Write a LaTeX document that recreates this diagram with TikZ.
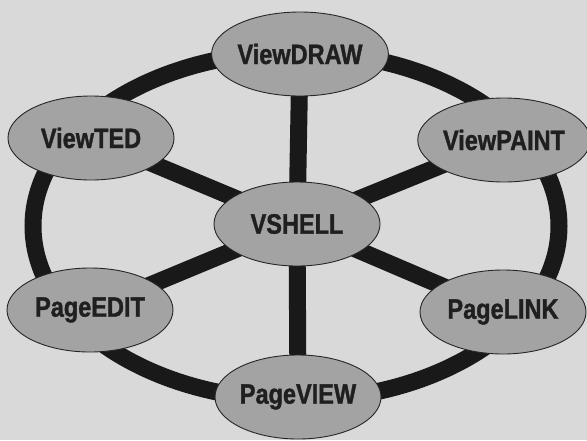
\documentclass[tikz,border=0pt]{standalone}
\usepackage{fontspec}
\setmainfont{Liberation Sans}[FakeStretch=0.84, BoldFeatures={FakeBold=1.2}]
\usetikzlibrary{shapes.geometric,backgrounds}
\begin{document}
\begin{tikzpicture}[x=1pt, y=-1pt,
  modulo/.style={ellipse, draw=black!85, line width=0.9pt, fill=gris,
    minimum width=166pt, minimum height=84pt, inner sep=0pt,
    text=black!88, font=\fontsize{28}{28}\selectfont\bfseries},
  barra/.style={line width=17pt, draw=black!90}]
  \colorlet{fondo}{black!15}
  \colorlet{gris}{black!36}
  \useasboundingbox (0, 0) rectangle (587, 440);
  \node[modulo] (vshell) at (297, 224) {VSHELL};
  \node[modulo] (viewdraw) at (300, 54) {ViewDRAW};
  \node[modulo] (viewted) at (91, 138) {ViewTED};
  \node[modulo] (viewpaint) at (504, 140) {ViewPAINT};
  \node[modulo] (pageedit) at (90, 310) {PageEDIT};
  \node[modulo] (pagelink) at (503, 312) {PageLINK};
  \node[modulo] (pageview) at (298, 397) {PageVIEW};
  \begin{scope}[on background layer]
    \fill[fondo] (0, 0) rectangle (587, 440);
    % anillo exterior
    \draw[barra] (296, 226) ellipse [x radius=263pt, y radius=174pt];
    % radios desde el centro
    \foreach \m in {viewdraw, viewted, viewpaint, pageedit, pagelink, pageview}
      \draw[barra] (vshell.center) -- (\m.center);
  \end{scope}
\end{tikzpicture}
\end{document}
